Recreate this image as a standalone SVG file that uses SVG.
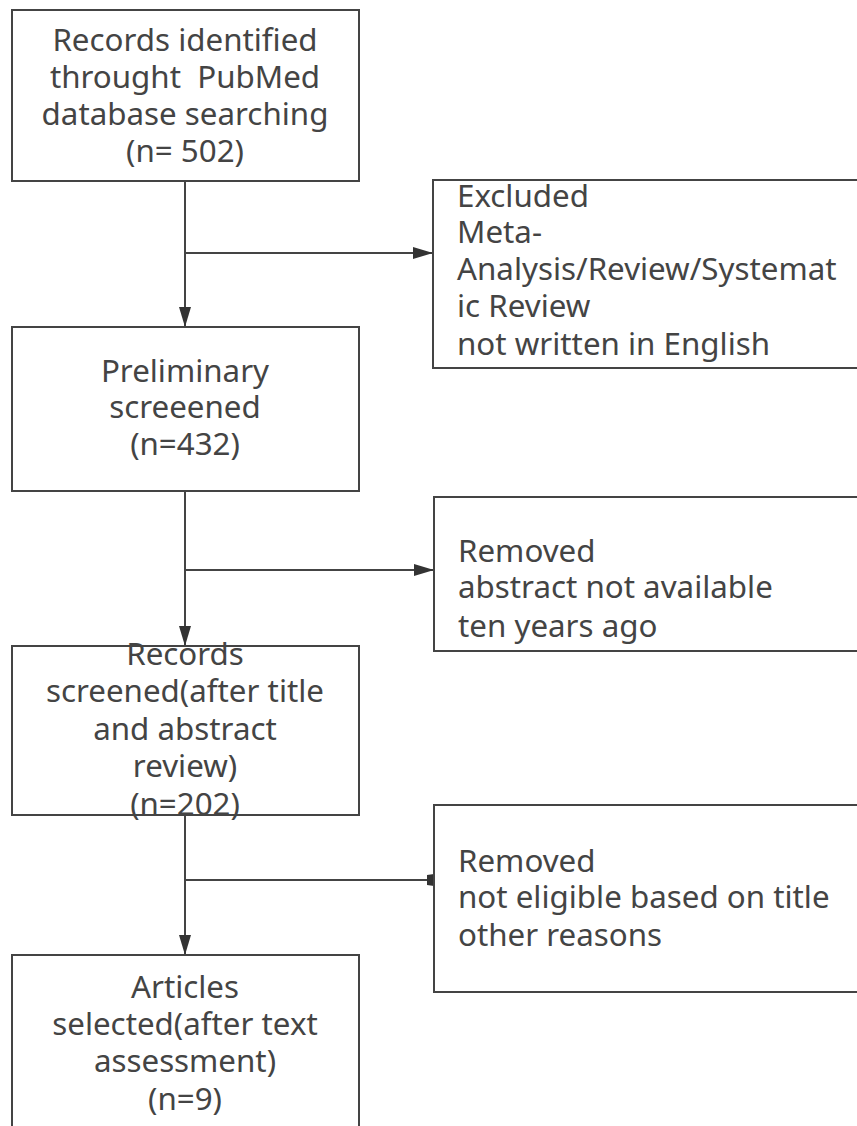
<svg xmlns="http://www.w3.org/2000/svg" width="857" height="1126" viewBox="0 0 857 1126">
<style>
.box{fill:#fff;stroke:#444;stroke-width:2}
.ln{fill:none;stroke:#444;stroke-width:2}
text{font-family:"Noto Sans","Open Sans",sans-serif;font-size:31.3px;fill:#444;white-space:pre}
.c{text-anchor:middle}
</style>
<defs>
<marker id="ah" viewBox="0 0 20 12" refX="20" refY="6" markerWidth="20" markerHeight="12" markerUnits="userSpaceOnUse" orient="auto">
<path d="M0,0 L20,6 L0,12 Z" fill="#333"/>
</marker>
<marker id="ahs" viewBox="0 0 7 12" refX="7" refY="6" markerWidth="7" markerHeight="12" markerUnits="userSpaceOnUse" orient="auto">
<path d="M0,1 L7,0 L7,12 L0,11 Z" fill="#333"/>
</marker>
</defs>
<rect width="857" height="1126" fill="#fff"/>
<g id="connectors">
<line class="ln" x1="185" y1="181" x2="185" y2="327" marker-end="url(#ah)"/>
<line class="ln" x1="185" y1="253" x2="433" y2="253" marker-end="url(#ah)"/>
<line class="ln" x1="185" y1="491" x2="185" y2="646" marker-end="url(#ah)"/>
<line class="ln" x1="185" y1="570" x2="434" y2="570" marker-end="url(#ah)"/>
<line class="ln" x1="185" y1="815" x2="185" y2="955" marker-end="url(#ah)"/>
<line class="ln" x1="185" y1="880" x2="434" y2="880" marker-end="url(#ahs)"/>
</g>
<g id="n1">
<rect class="box" x="12" y="10" width="347" height="171"/>
<text class="c" x="185" y="51">Records identified</text>
<text class="c" x="185" y="88" xml:space="preserve">throught  PubMed</text>
<text class="c" x="185" y="125">database searching</text>
<text class="c" x="185" y="162">(n= 502)</text>
</g>
<g id="n2">
<rect class="box" x="433" y="180" width="440" height="188"/>
<text x="457" y="207">Excluded</text>
<text x="457" y="243">Meta-</text>
<text x="457" y="280">Analysis/Review/Systemat</text>
<text x="457" y="317">ic Review</text>
<text x="457" y="355">not written in English</text>
</g>
<g id="n3">
<rect class="box" x="12" y="327" width="347" height="164"/>
<text class="c" x="185" y="382">Preliminary</text>
<text class="c" x="185" y="418">screeened</text>
<text class="c" x="185" y="455">(n=432)</text>
</g>
<g id="n4">
<rect class="box" x="434" y="497" width="440" height="154"/>
<text x="458" y="562">Removed</text>
<text x="458" y="598">abstract not available</text>
<text x="458" y="637">ten years ago</text>
</g>
<g id="n5">
<rect class="box" x="12" y="646" width="347" height="169"/>
<text class="c" x="185" y="665">Records</text>
<text class="c" x="185" y="702">screened(after title</text>
<text class="c" x="185" y="740">and abstract</text>
<text class="c" x="185" y="777">review)</text>
<text class="c" x="185" y="815">(n=202)</text>
</g>
<g id="n6">
<rect class="box" x="434" y="805" width="440" height="187"/>
<text x="458" y="872">Removed</text>
<text x="458" y="908">not eligible based on title</text>
<text x="458" y="946">other reasons</text>
</g>
<g id="n7">
<rect class="box" x="12" y="955" width="347" height="190"/>
<text class="c" x="185" y="998">Articles</text>
<text class="c" x="185" y="1035">selected(after text</text>
<text class="c" x="185" y="1072">assessment)</text>
<text class="c" x="185" y="1110">(n=9)</text>
</g>
</svg>
